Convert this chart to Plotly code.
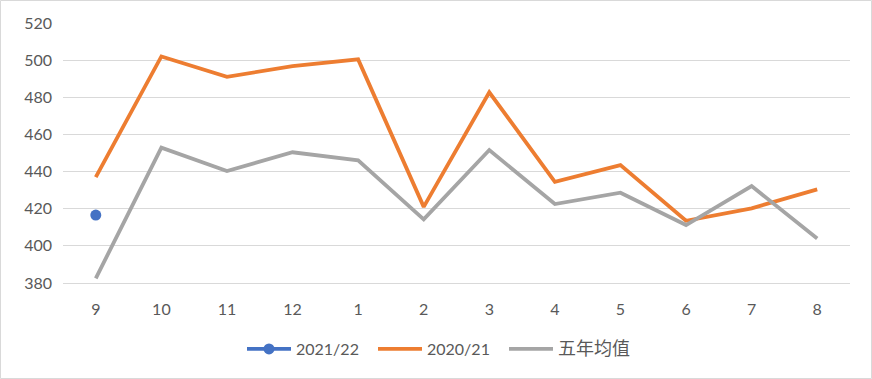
import plotly.graph_objects as go

months = ["9", "10", "11", "12", "1", "2", "3", "4", "5", "6", "7", "8"]
s2122 = [416.6, None, None, None, None, None, None, None, None, None, None, None]
s2021 = [437, 502, 491, 496.8, 500.4, 421, 482.7, 434.5, 443.5, 413.5, 420.2, 430.4]
avg5 = [382.5, 452.9, 440.3, 450.4, 446, 414.3, 451.6, 422.5, 428.6, 411.2, 432.2, 404]
names = ["2021/22", "2020/21", "<span style='font-size:18px'>五年均值</span>"]

font_fam = "Lato, 'Noto Sans CJK SC', sans-serif"

fig = go.Figure()
fig.add_trace(go.Scatter(x=months, y=s2122, name=names[0], mode="lines+markers",
                         line=dict(color="#4472C4", width=3.8),
                         marker=dict(color="#4472C4", size=11)))
fig.add_trace(go.Scatter(x=months, y=s2021, name=names[1], mode="lines",
                         line=dict(color="#ED7D31", width=3.8)))
fig.add_trace(go.Scatter(x=months, y=avg5, name=names[2], mode="lines",
                         line=dict(color="#A5A5A5", width=3.8)))

L, R, T, B = 63, 22, 23, 96
W, H = 872, 379
pw, ph = W - L - R, H - T - B

fig.update_layout(
    width=W, height=H,
    margin=dict(l=L, r=R, t=T, b=B, autoexpand=False),
    paper_bgcolor="white", plot_bgcolor="white",
    font=dict(family=font_fam, size=16, color="#595959"),
    showlegend=True,
    legend=dict(orientation="h", x=(242 - L) / pw, xanchor="left",
                y=(T + ph - 349) / ph, yanchor="middle",
                font=dict(size=16, color="#595959"), itemwidth=44,
                entrywidth=72, entrywidthmode="pixels",
                bgcolor="rgba(0,0,0,0)"),
    xaxis=dict(type="category", range=[-0.5, len(months) - 0.5],
               showgrid=False, zeroline=False, automargin=False,
               showline=True, linecolor="#d9d9d9", linewidth=1.3,
               ticks="", ticklabelstandoff=12),
    yaxis=dict(range=[380, 520], dtick=20, showgrid=True, gridcolor="#d9d9d9",
               gridwidth=1.3, zeroline=False, showline=False, ticks="", automargin=False,
               ticklabelstandoff=10),
    shapes=[dict(type="rect", xref="paper", yref="paper",
                 x0=(0.5 - L) / pw, x1=(W - 0.5 - L) / pw,
                 y0=-(H - 0.5 - T - ph) / ph, y1=1 + (T - 0.5) / ph,
                 line=dict(color="#d9d9d9", width=1), layer="below")],
)

fig.write_html("out.html", config={"displayModeBar": False},
               post_script="document.body.style.margin='0';document.body.style.overflow='hidden';document.documentElement.style.overflow='hidden';")
